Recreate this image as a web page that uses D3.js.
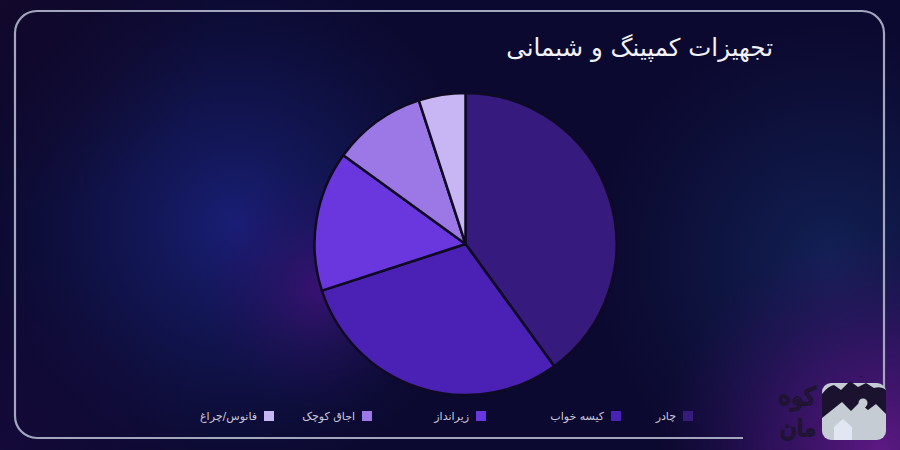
<!DOCTYPE html>
<html><head><meta charset="utf-8">
<script src="https://cdn.jsdelivr.net/npm/d3@7"></script>
<style>html,body{margin:0;padding:0;background:#0c0930;}svg{display:block;}</style>
</head><body><div id="chart"></div>
<script>
const title = "تجهیزات کمپینگ و شبمانی";
const categories = ["چادر", "کیسه خواب", "زیرانداز", "اجاق کوچک", "فانوس/چراغ"];
const values = [40, 30, 15, 10, 5];
const colors = ["#371a7e", "#4b20b4", "#6a36de", "#9b78e6", "#c8b5f3"];
const legendX = [683, 611, 476, 362, 264];

const W = 900, H = 450;
const svg = d3.select("#chart").append("svg").attr("width", W).attr("height", H);
const defs = svg.append("defs");

function radial(id, stops, cx, cy, r) {
  const g = defs.append("radialGradient").attr("id", id).attr("gradientUnits", "userSpaceOnUse")
    .attr("cx", cx).attr("cy", cy).attr("r", r);
  stops.forEach(s => g.append("stop").attr("offset", s[0]).attr("stop-color", s[1]).attr("stop-opacity", s[2]));
}
radial("gBlue", [[0, "#1c2488", 0.8], [0.55, "#15206a", 0.4], [1, "#101850", 0]], 235, 225, 260);
radial("gMag", [[0, "#4a1080", 0.7], [0.5, "#3a1070", 0.3], [1, "#2a0860", 0]], 320, 290, 120);
radial("gRBlue", [[0, "#16306e", 0.6], [0.6, "#122a60", 0.25], [1, "#102050", 0]], 830, 260, 240);
radial("gBR", [[0, "#621a88", 0.95], [0.5, "#481478", 0.55], [1, "#301060", 0]], 880, 450, 220);
radial("gBL", [[0, "#1a0a40", 0.6], [1, "#1a0a40", 0]], 0, 450, 200);
radial("gTL", [[0, "#14082a", 0.7], [1, "#14082a", 0]], 0, 0, 220);

svg.append("rect").attr("width", W).attr("height", H).attr("fill", "#0c0930");
["gBlue", "gRBlue", "gMag", "gBR", "gBL", "gTL"].forEach(id =>
  svg.append("rect").attr("width", W).attr("height", H).attr("fill", `url(#${id})`));

// frame (broken at bottom-right for logo)
const L = 15, T = 11, R = 884, B = 438, rr = 22;
const p = d3.path();
p.moveTo(743, B);
p.lineTo(L + rr, B);
p.arcTo(L, B, L, B - rr, rr);
p.lineTo(L, T + rr);
p.arcTo(L, T, L + rr, T, rr);
p.lineTo(R - rr, T);
p.arcTo(R, T, R, T + rr, rr);
p.lineTo(R, 393);
svg.append("path").attr("d", p.toString()).attr("fill", "none")
  .attr("stroke", "#a3a7bd").attr("stroke-width", 2.2);

// title
svg.append("text").attr("x", 773).attr("y", 56).attr("text-anchor", "end")
  .attr("font-family", "DejaVu Sans, sans-serif").attr("font-size", 24.5)
  .attr("fill", "#f2f2f8").text(title);

// pie
const cx = 465.5, cy = 244, radius = 151;
const pie = d3.pie().sort(null).value(d => d.v);
const data = pie(categories.map((c, i) => ({ c, v: values[i], col: colors[i] })));
const arc = d3.arc().innerRadius(0).outerRadius(radius);
svg.append("g").attr("transform", `translate(${cx},${cy})`)
  .selectAll("path").data(data).join("path")
  .attr("d", arc).attr("fill", d => d.data.col)
  .attr("stroke", "#0e0a24").attr("stroke-width", 2.5).attr("stroke-linejoin", "round");

// legend
const lg = svg.append("g");
categories.forEach((c, i) => {
  const x = legendX[i];
  lg.append("rect").attr("x", x).attr("y", 411).attr("width", 10).attr("height", 10)
    .attr("fill", colors[i]);
  lg.append("text").attr("x", x - 7).attr("y", 420).attr("text-anchor", "end")
    .attr("font-family", "DejaVu Sans, sans-serif").attr("font-size", 11)
    .attr("fill", "#c8c8dc").text(c);
});

// logo
const lo = svg.append("g");
lo.append("rect").attr("x", 822).attr("y", 383).attr("width", 64).attr("height", 57).attr("rx", 9)
  .attr("fill", "#c5ccd4");
lo.append("path").attr("d", "M822,394 Q828,386 834,385 L841,390 L850,381 L858,387 L866,383 L874,388 Q882,386 886,390 L886,414 L876,404 L868,410 L859,403 L851,411 L842,402 L832,410 L822,418 Z")
  .attr("fill", "#1b1230");
lo.append("circle").attr("cx", 863).attr("cy", 403).attr("r", 4.5).attr("fill", "#c5ccd4");
lo.append("path").attr("d", "M861,406 L865,406 L866,416 L860,416 Z").attr("fill", "#c5ccd4");
lo.append("path").attr("d", "M834,440 L834,427 L843,419 L852,427 L852,440 Z").attr("fill", "#e2e6f2");
lo.append("path").attr("d", "M858,376 q3,2 5,-1 q-1,4 -5,1 Z").attr("fill", "#1b1230");
lo.append("text").attr("x", 816).attr("y", 405).attr("text-anchor", "end")
  .attr("font-family", "DejaVu Sans, sans-serif").attr("font-size", 25)
  .attr("fill", "none").attr("stroke", "#1e1430").attr("stroke-width", 1.8).text("کوه");
lo.append("text").attr("x", 816).attr("y", 436).attr("text-anchor", "end")
  .attr("font-family", "DejaVu Sans, sans-serif").attr("font-size", 23)
  .attr("fill", "none").attr("stroke", "#1e1430").attr("stroke-width", 1.8).text("مان");
</script>
</body></html>
